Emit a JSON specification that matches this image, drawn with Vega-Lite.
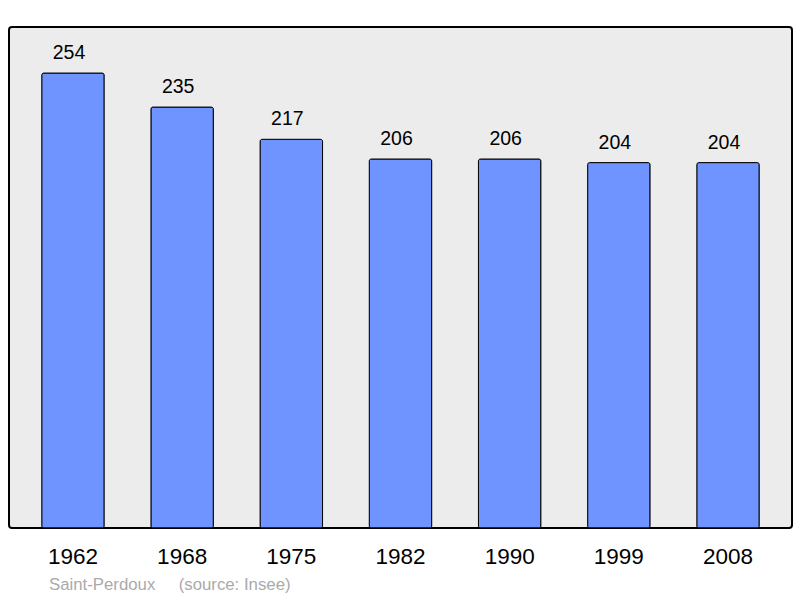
{
  "$schema": "https://vega.github.io/schema/vega-lite/v6.json",
  "width": 783,
  "height": 501,
  "autosize": {"type": "none"},
  "padding": {"left": 9, "top": 27, "right": 8, "bottom": 70},
  "background": "white",
  "config": {
    "font": "Liberation Sans",
    "view": {"fill": "#ececec", "stroke": "#000000", "strokeWidth": 2, "cornerRadius": 3}
  },
  "title": {
    "text": "Saint-Perdoux\u00a0\u00a0\u00a0\u00a0\u00a0(source: Insee)",
    "orient": "bottom",
    "anchor": "start",
    "frame": "group",
    "dx": 40,
    "offset": 9,
    "fontSize": 16.8,
    "fontWeight": "normal",
    "color": "#aaaaaa"
  },
  "data": {
    "values": [
      {"year": "1962", "population": 254},
      {"year": "1968", "population": 235},
      {"year": "1975", "population": 217},
      {"year": "1982", "population": 206},
      {"year": "1990", "population": 206},
      {"year": "1999", "population": 204},
      {"year": "2008", "population": 204}
    ]
  },
  "encoding": {
    "x": {
      "field": "year",
      "type": "ordinal",
      "scale": {"paddingInner": 0.428, "paddingOuter": 0.3},
      "axis": {
        "title": null,
        "ticks": false,
        "domain": false,
        "labelAngle": 0,
        "labelFontSize": 22.5,
        "labelColor": "#000000",
        "labelBaseline": "alphabetic",
        "labelPadding": 35
      }
    },
    "y": {
      "field": "population",
      "type": "quantitative",
      "scale": {"domain": [0, 279.7], "nice": false},
      "axis": null
    }
  },
  "layer": [
    {
      "mark": {"type": "bar", "fill": "#7094ff", "stroke": "#000000", "strokeWidth": 1, "cornerRadius": 2}
    },
    {
      "mark": {"type": "text", "baseline": "alphabetic", "dx": -4, "dy": -14, "fontSize": 19.5, "color": "#000000"},
      "encoding": {"text": {"field": "population", "type": "quantitative"}}
    }
  ]
}
